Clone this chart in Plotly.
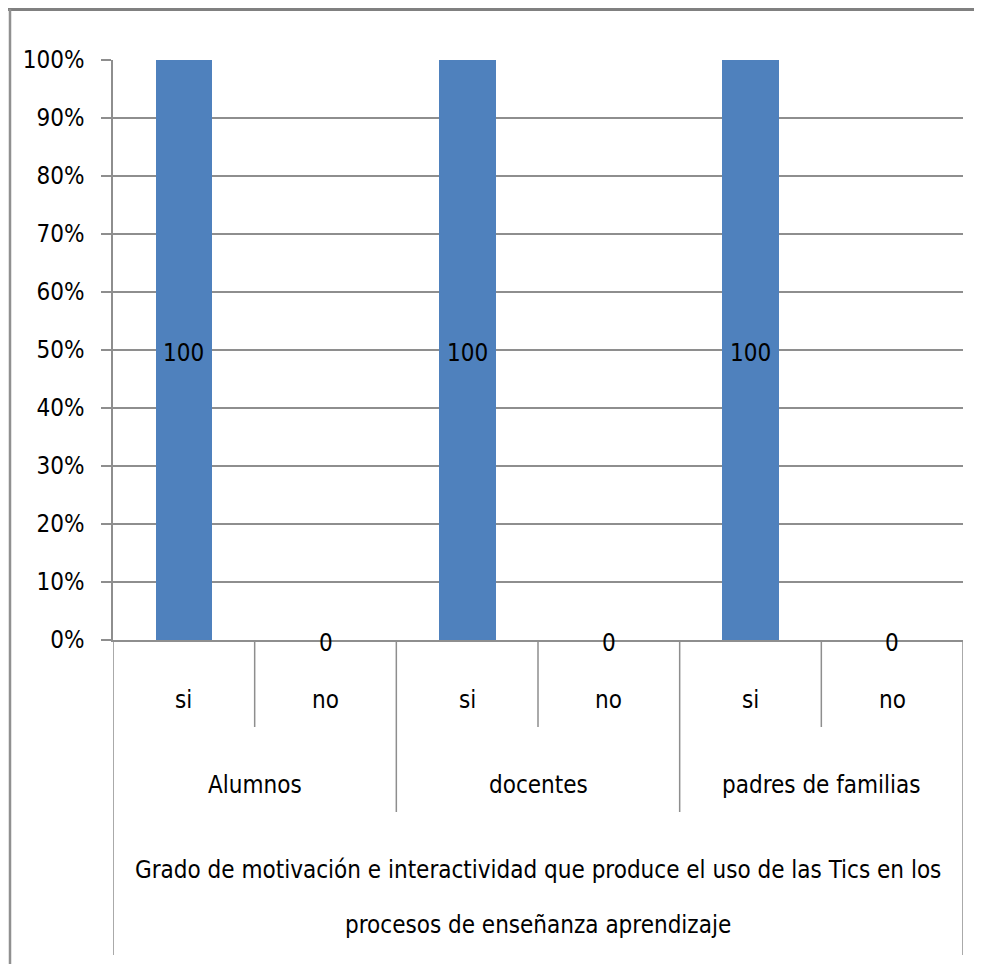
import plotly.graph_objects as go

# Data
groups = ["Alumnos", "docentes", "padres de familias"]
answers = ["si", "no"]
values = [100, 0, 100, 0, 100, 0]  # percent, in order (group, answer)
y_ticks = [0, 10, 20, 30, 40, 50, 60, 70, 80, 90, 100]
title_lines = ["Grado de motivación e interactividad que produce el uso de las Tics en los",
               "procesos de enseñanza aprendizaje"]

FONT = "DejaVu Sans Condensed, Liberation Sans Narrow, sans-serif"
FS = 24
GRID = "#8e8e8e"
BAR = "#4f81bd"

OFF = 8  # page body margin
W, H = 982 - 2 * OFF, 972 - 2 * OFF
# plot area in page pixels, converted to figure pixels
L, R, T, B = 113 - OFF, 963 - OFF, 60 - OFF, 640 - OFF


def py(Y):
    Y = Y - OFF
    return (B - Y) / (B - T)


def px(X):
    X = X - OFF
    return (X - L) / (R - L)


xs = list(range(len(values)))
fig = go.Figure()
fig.add_trace(go.Bar(x=xs, y=[v / 100 for v in values], width=0.4,
                     marker=dict(color=BAR, line=dict(width=0)),
                     hoverinfo="skip"))

annotations = []
shapes = []
txtfont = dict(family=FONT, size=FS, color="black")
# data labels
for i, v in enumerate(values):
    annotations.append(dict(x=i, y=v / 200, xref="x", yref="y", text=str(v),
                            showarrow=False, yshift=-3, yanchor="middle",
                            xanchor="center", font=txtfont))
# inner category labels
for gi, g in enumerate(groups):
    for ai, a in enumerate(answers):
        idx = gi * len(answers) + ai
        annotations.append(dict(x=idx, y=py(700), xref="x", yref="paper", text=a,
                                showarrow=False, yanchor="middle",
                                xanchor="center", font=txtfont))
    center = gi * len(answers) + (len(answers) - 1) / 2
    annotations.append(dict(x=center, y=py(785), xref="x", yref="paper", text=g,
                            showarrow=False, yanchor="middle",
                            xanchor="center", font=txtfont))
# outer label
mid = (len(values) - 1) / 2
for line, yy in zip(title_lines, [870, 925]):
    annotations.append(dict(x=mid, y=py(yy), xref="x", yref="paper", text=line,
                            showarrow=False, yanchor="middle",
                            xanchor="center", font=txtfont))

# divider lines
n = len(values)
for b in range(n + 1):
    xb = b - 0.5
    if b == 0 or b == n:
        ybot = 955
    elif b % len(answers) == 0:
        ybot = 812
    else:
        ybot = 727
    shapes.append(dict(type="line", xref="x", yref="paper", x0=xb, x1=xb,
                       y0=0, y1=py(ybot), line=dict(color=GRID, width=1.5)))

# outer frame (top + left)
shapes.append(dict(type="line", xref="paper", yref="paper", x0=px(0), x1=px(982),
                   y0=py(9), y1=py(9), line=dict(color="#808080", width=4)))
shapes.append(dict(type="line", xref="paper", yref="paper", x0=px(10), x1=px(10),
                   y0=py(9), y1=py(972), line=dict(color="#909090", width=2.5)))

fig.update_layout(
    width=W, height=H,
    margin=dict(l=L, r=W - R, t=T, b=H - B),
    paper_bgcolor="white", plot_bgcolor="white",
    showlegend=False,
    annotations=annotations, shapes=shapes,
    font=dict(family=FONT, size=FS, color="black"),
    xaxis=dict(range=[-0.5, n - 0.5], showticklabels=False, ticks="",
               showgrid=False, zeroline=False, showline=True,
               linecolor=GRID, linewidth=1.5, fixedrange=True),
    yaxis=dict(range=[0, 1], tickvals=[t / 100 for t in y_ticks],
               ticktext=[f"{t}%" for t in y_ticks],
               showgrid=True, gridcolor=GRID, gridwidth=1.5,
               zeroline=False, showline=True, linecolor=GRID, linewidth=1.5,
               ticks="outside", ticklen=10, tickcolor=GRID, tickwidth=1.5,
               ticklabelstandoff=12,
               tickfont=dict(family=FONT, size=FS, color="black"),
               fixedrange=True),
    bargap=0,
)

fig.write_html("out.html")
